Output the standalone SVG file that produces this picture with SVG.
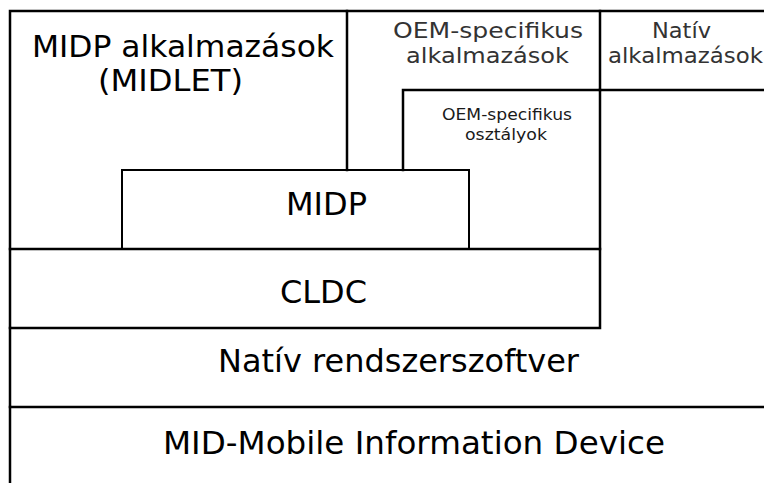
<svg xmlns="http://www.w3.org/2000/svg" width="764" height="483" viewBox="0 0 764 483">
<style>
.ln{fill:none;stroke:#000;stroke-width:2.5;stroke-linecap:square}
.big{font-family:"DejaVu Sans",sans-serif;font-size:32px;fill:#000}
.mt{font-size:30px}
.lt{font-family:"DejaVu Sans",sans-serif;font-size:22px;fill:#333}
.sm{font-family:"DejaVu Sans",sans-serif;font-size:15px;fill:#1a1a1a}
</style>
<rect width="764" height="483" fill="#fff"/>
<g id="midlet">
<path class="ln" d="M10,249 V11 H347 V170"/>
<text class="big mt" x="32" y="57" textLength="302" lengthAdjust="spacingAndGlyphs">MIDP alkalmazások</text>
<text class="big mt" x="98" y="91" textLength="145" lengthAdjust="spacingAndGlyphs">(MIDLET)</text>
</g>
<g id="oem-apps">
<path class="ln" d="M347,11 H600 V90 M403,90 H600 M403,90 V170"/>
<text class="lt" x="393" y="38" textLength="190" lengthAdjust="spacingAndGlyphs">OEM-specifikus</text>
<text class="lt" x="406" y="63" textLength="163" lengthAdjust="spacingAndGlyphs">alkalmazások</text>
</g>
<g id="native-apps">
<path class="ln" d="M600,11 H764 M600,90 H764"/>
<text class="lt" x="652" y="38" textLength="59" lengthAdjust="spacingAndGlyphs">Natív</text>
<text class="lt" x="608" y="63" textLength="155" lengthAdjust="spacingAndGlyphs">alkalmazások</text>
</g>
<g id="oem-classes">
<path class="ln" d="M600,90 V249"/>
<text class="sm" x="442" y="120" textLength="130" lengthAdjust="spacingAndGlyphs">OEM-specifikus</text>
<text class="sm" x="465" y="140" textLength="82" lengthAdjust="spacingAndGlyphs">osztályok</text>
</g>
<g id="midp">
<rect class="ln" x="122" y="170" width="347" height="79" style="stroke-width:2"/>
<text class="big" x="286" y="215" textLength="81" lengthAdjust="spacingAndGlyphs">MIDP</text>
</g>
<g id="cldc">
<path class="ln" d="M10,249 H600 V328 H10 Z"/>
<text class="big" x="280" y="303" textLength="87" lengthAdjust="spacingAndGlyphs">CLDC</text>
</g>
<g id="native-sys">
<path class="ln" d="M10,328 V407 H764"/>
<text class="big" x="218" y="372" textLength="361" lengthAdjust="spacingAndGlyphs">Natív rendszerszoftver</text>
</g>
<g id="mid">
<path class="ln" d="M10,407 V483"/>
<text class="big" x="163" y="454" textLength="502" lengthAdjust="spacingAndGlyphs">MID-Mobile Information Device</text>
</g>
<g id="connectors"/>
</svg>
